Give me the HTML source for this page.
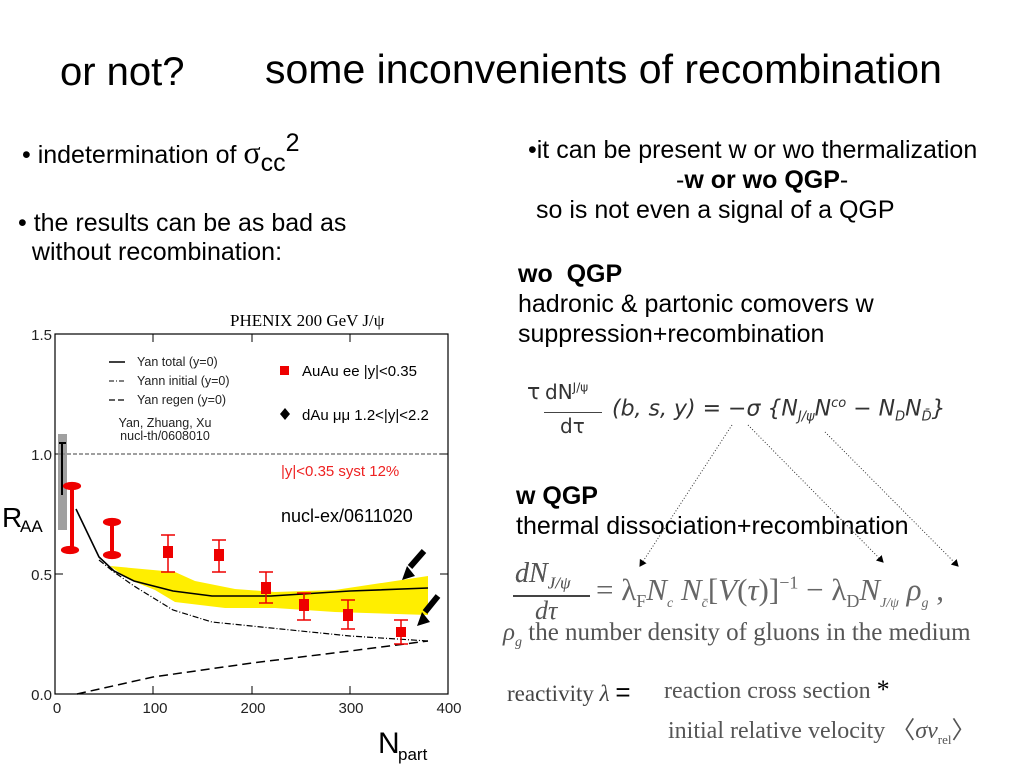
<!DOCTYPE html>
<html><head><meta charset="utf-8"><style>
body{margin:0;width:1023px;height:767px;background:#fff;overflow:hidden;position:relative;font-family:"Liberation Sans",sans-serif;color:#000}
.t{position:absolute;white-space:nowrap}
</style></head><body>
<div class="t" style="left:60px;top:50px;font-size:40px">or not?</div>
<div class="t" style="left:265px;top:46px;font-size:41px">some inconvenients of recombination</div>
<div class="t" style="left:22px;top:134px;font-size:25px">• indetermination of <span style="font-family:'Liberation Serif',serif;font-size:32px">σ</span><span style="font-size:25px;position:relative;top:8px">cc</span><span style="font-size:25px;position:relative;top:-12px">2</span></div>
<div class="t" style="left:18px;top:209px;font-size:25px;line-height:29px">• the results can be as bad as<br>&nbsp;&nbsp;without recombination:</div>
<div class="t" style="left:528px;top:136px;font-size:25px">•it can be present w or wo thermalization</div>
<div class="t" style="left:676px;top:166px;font-size:25px">-<b>w or wo QGP</b>-</div>
<div class="t" style="left:536px;top:196px;font-size:25px">so is not even a signal of a QGP</div>
<div class="t" style="left:518px;top:259px;font-size:25px;line-height:30px"><b>wo&nbsp; QGP</b><br>hadronic &amp; partonic comovers w<br>suppression+recombination</div>
<div class="t" style="left:516px;top:481px;font-size:25px;line-height:30px"><b>w QGP</b><br>thermal dissociation+recombination</div>

<div class="t" style="left:527px;top:380px;font-size:22px;font-family:'DejaVu Sans',sans-serif;color:#333">τ</div>
<div class="t" style="left:545px;top:380px;font-size:20px;font-family:'DejaVu Sans',sans-serif;color:#333">dN<sup style="font-size:12px">J/ψ</sup></div>
<div style="position:absolute;left:544px;top:412px;width:58px;border-top:1px solid #444"></div>
<div class="t" style="left:560px;top:414px;font-size:20px;font-family:'DejaVu Sans',sans-serif;color:#333">dτ</div>
<div class="t" style="left:612px;top:396px;font-size:22px;font-family:'DejaVu Sans',sans-serif;font-style:italic;color:#333">(b, s, y) = −σ {N<sub style="font-size:13px">J/ψ</sub>N<sup style="font-size:13px">co</sup> − N<sub style="font-size:13px">D</sub>N<sub style="font-size:13px">D̄</sub>}</div>

<div class="t" style="left:515px;top:558px;font-size:28px;font-family:'Liberation Serif',serif;font-style:italic;color:#555">dN<sub style="font-size:17px">J/ψ</sub></div>
<div class="t" style="left:515px;top:558px;font-size:28px;font-family:'Liberation Serif',serif;font-style:italic;color:#555">dN<sub style="font-size:17px">J/ψ</sub></div>
<div style="position:absolute;left:513px;top:595px;width:77px;border-top:2px solid #444"></div>
<div class="t" style="left:535px;top:596px;font-size:26px;font-family:'Liberation Serif',serif;font-style:italic;color:#555">dτ</div>
<div class="t" style="left:596px;top:572px;font-size:31px;font-family:'Liberation Serif',serif;color:#666">= λ<sub style="font-size:18px">F</sub><i>N<sub style="font-size:14px">c</sub> N<sub style="font-size:14px">c̄</sub></i>[<i>V</i>(<i>τ</i>)]<sup style="font-size:18px">−1</sup> − λ<sub style="font-size:18px">D</sub><i>N<sub style="font-size:14px">J/ψ</sub> ρ<sub style="font-size:14px">g</sub></i> ,</div>
<div class="t" style="left:503px;top:619px;font-size:25px;font-family:'Liberation Serif',serif;color:#555"><i>ρ<sub style="font-size:14px">g</sub></i> the number density of gluons in the medium</div>
<div class="t" style="left:507px;top:677px;font-size:23px;font-family:'Liberation Serif',serif;color:#444">reactivity <i>λ</i> <span style="font-family:'Liberation Sans';font-size:26px;color:#000">=</span></div>
<div class="t" style="left:664px;top:675px;font-size:24px;font-family:'Liberation Serif',serif;color:#555">reaction cross section <span style="color:#000;font-size:26px">*</span></div>
<div class="t" style="left:668px;top:710px;font-size:24px;font-family:'Liberation Serif',serif;color:#555">initial relative velocity 〈<i>σv</i><sub style="font-size:13px">rel</sub>〉</div>

<svg width="1023" height="767" style="position:absolute;left:0;top:0" font-family="Liberation Sans, sans-serif">
<defs><marker id="ah" markerWidth="8" markerHeight="8" refX="6" refY="4" orient="auto"><path d="M0,0 L7,4 L0,8z" fill="#000"/></marker></defs>
<g stroke="#333" stroke-width="1" stroke-dasharray="1,2" fill="none">
<line x1="732" y1="425" x2="640" y2="566" marker-end="url(#ah)"/>
<line x1="748" y1="425" x2="883" y2="562" marker-end="url(#ah)"/>
<line x1="825" y1="432" x2="958" y2="566" marker-end="url(#ah)"/>
</g>
<text x="230" y="326" font-family="Liberation Serif, serif" font-size="17">PHENIX 200 GeV J/ψ</text>
<rect x="55" y="334" width="393" height="360" fill="none" stroke="#000" stroke-width="1.2"/>
<g stroke="#000" stroke-width="1">
<line x1="55" y1="574" x2="63" y2="574"/><line x1="55" y1="454" x2="63" y2="454"/>
<line x1="440" y1="574" x2="448" y2="574"/><line x1="440" y1="454" x2="448" y2="454"/>
<line x1="153" y1="694" x2="153" y2="686"/><line x1="252" y1="694" x2="252" y2="686"/><line x1="350" y1="694" x2="350" y2="686"/>
<line x1="153" y1="334" x2="153" y2="342"/><line x1="252" y1="334" x2="252" y2="342"/><line x1="350" y1="334" x2="350" y2="342"/>
</g>
<g font-size="15" fill="#222">
<text x="52" y="340" text-anchor="end">1.5</text><text x="52" y="460" text-anchor="end">1.0</text>
<text x="52" y="580" text-anchor="end">0.5</text><text x="52" y="700" text-anchor="end">0.0</text>
<text x="57" y="713" text-anchor="middle">0</text><text x="155" y="713" text-anchor="middle">100</text>
<text x="253" y="713" text-anchor="middle">200</text><text x="351" y="713" text-anchor="middle">300</text><text x="449" y="713" text-anchor="middle">400</text>
</g>
<text x="2" y="527" font-size="28">R</text><text x="20" y="532" font-size="17">AA</text>
<text x="378" y="753" font-size="30">N</text><text x="398" y="760" font-size="17">part</text>
<line x1="55" y1="454" x2="448" y2="454" stroke="#000" stroke-dasharray="4,2" stroke-width="0.8"/>
<g font-size="12.5" fill="#222">
<line x1="109" y1="362" x2="125" y2="362" stroke="#000" stroke-width="1.5"/><text x="137" y="366">Yan total (y=0)</text>
<line x1="109" y1="381" x2="125" y2="381" stroke="#000" stroke-dasharray="5,2,1,2"/><text x="137" y="385">Yann initial (y=0)</text>
<line x1="109" y1="400" x2="125" y2="400" stroke="#000" stroke-dasharray="6,3" stroke-width="1.3"/><text x="137" y="404">Yan regen (y=0)</text>
<text x="165" y="427" text-anchor="middle">Yan, Zhuang, Xu</text><text x="165" y="440" text-anchor="middle">nucl-th/0608010</text>
</g>
<rect x="280" y="366" width="9" height="9" fill="#e00"/><text x="302" y="376" font-size="15">AuAu ee |y|&lt;0.35</text>
<path d="M285,408 l5,6 -5,6 -5,-6z" fill="#000"/><text x="302" y="420" font-size="15">dAu μμ 1.2&lt;|y|&lt;2.2</text>
<text x="281" y="476" font-size="15" fill="#e22">|y|&lt;0.35 syst 12%</text>
<text x="281" y="522" font-size="18">nucl-ex/0611020</text>
<path d="M175,572 L195,581 L235,589 L275,592 L335,590 L428,576 L428,615 L335,612 L275,608 L225,608 L175,602 L155,590 L130,580 L110,566 Z" fill="#ffee00"/>
<rect x="58" y="434" width="9" height="96" fill="#888" opacity="0.8"/>
<line x1="62" y1="443" x2="62" y2="495" stroke="#000" stroke-width="2"/>
<line x1="59" y1="443" x2="66" y2="443" stroke="#000" stroke-width="2"/>
<g fill="none" stroke="#000">
<polyline points="76,509 99,557 114,571 134,581 173,591 212,596 271,596 350,591 428,588" stroke-width="1.6"/>
<polyline points="99,560 114,572 134,586 173,610 212,622 281,629 350,636 428,641" stroke-dasharray="6,2,1,2" stroke-width="1.2"/>
<polyline points="77,694 153,677 252,663 350,651 428,641" stroke-dasharray="9,5" stroke-width="1.5"/>
</g>
<g stroke="#e00" stroke-width="2.2" fill="#e00">
<line x1="72" y1="485" x2="72" y2="550" stroke-width="4"/><ellipse cx="72" cy="486" rx="8" ry="3"/><ellipse cx="70" cy="550" rx="8" ry="3"/>
<line x1="112" y1="521" x2="112" y2="555" stroke-width="4"/><ellipse cx="112" cy="522" rx="8" ry="3"/><ellipse cx="112" cy="555" rx="8" ry="3"/>
</g>
<g stroke="#e00" stroke-width="1.5">
<line x1="168" y1="535" x2="168" y2="572"/><line x1="161" y1="535" x2="175" y2="535"/><line x1="161" y1="572" x2="175" y2="572"/>
<line x1="219" y1="540" x2="219" y2="572"/><line x1="212" y1="540" x2="226" y2="540"/><line x1="212" y1="572" x2="226" y2="572"/>
<line x1="266" y1="572" x2="266" y2="603"/><line x1="259" y1="572" x2="273" y2="572"/><line x1="259" y1="603" x2="273" y2="603"/>
<line x1="304" y1="593" x2="304" y2="620"/><line x1="297" y1="593" x2="311" y2="593"/><line x1="297" y1="620" x2="311" y2="620"/>
<line x1="348" y1="600" x2="348" y2="629"/><line x1="341" y1="600" x2="355" y2="600"/><line x1="341" y1="629" x2="355" y2="629"/>
<line x1="401" y1="620" x2="401" y2="644"/><line x1="394" y1="620" x2="408" y2="620"/><line x1="394" y1="644" x2="408" y2="644"/>
</g>
<g fill="#e00">
<rect x="163" y="546" width="10" height="12"/><rect x="214" y="549" width="10" height="12"/><rect x="261" y="582" width="10" height="12"/>
<rect x="299" y="599" width="10" height="12"/><rect x="343" y="609" width="10" height="12"/><rect x="396" y="627" width="10" height="10"/>
</g>
<g fill="#000" stroke="#000" stroke-width="6">
<line x1="424" y1="551" x2="410" y2="567"/><line x1="438" y1="596" x2="425" y2="612"/>
</g>
<path d="M402,580 L415,576 L407,566z M417,626 L430,622 L422,612z" fill="#000"/>
</svg>
</body></html>
